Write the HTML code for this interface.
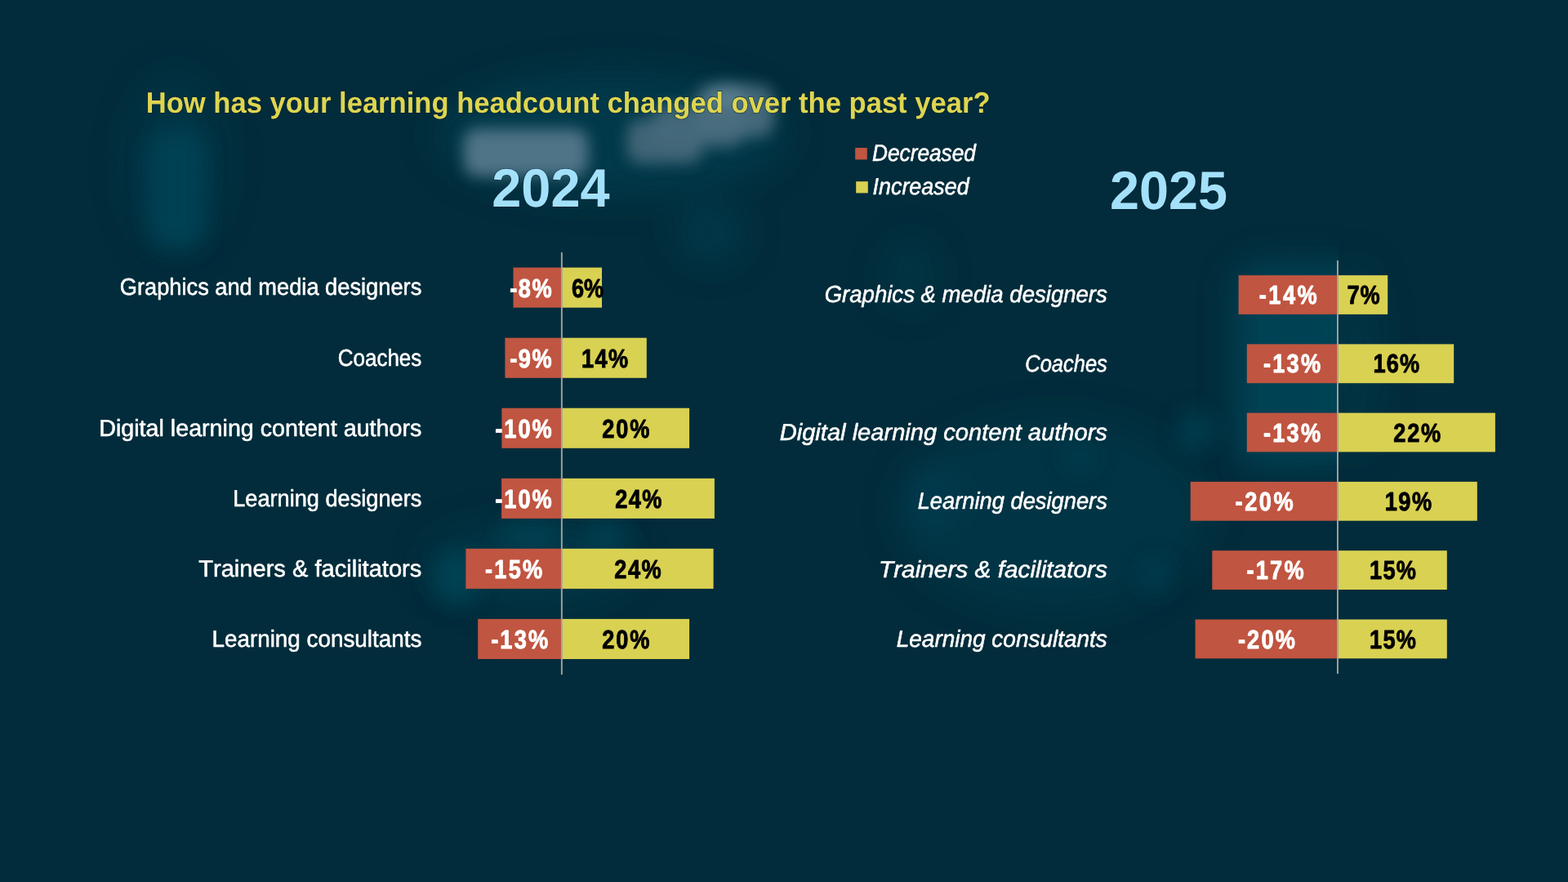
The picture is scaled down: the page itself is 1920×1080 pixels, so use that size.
<!DOCTYPE html>
<html lang="en">
<head>
<meta charset="utf-8">
<title>How has your learning headcount changed over the past year?</title>
<style>
html,body{margin:0;padding:0;width:1920px;height:1080px;overflow:hidden;background:#022c3b;}
svg{display:block;position:absolute;left:0;top:0;}
text{font-family:"Liberation Sans",sans-serif;font-kerning:none;text-rendering:geometricPrecision;}
.b{font-weight:700;}
.i{font-style:italic;}
.h{paint-order:stroke;stroke:#011c2b;stroke-opacity:.55;stroke-width:1.6px;stroke-linejoin:round;}
.s{stroke:#fff;stroke-width:0.55px;stroke-linejoin:round;}
</style>
</head>
<body>
<svg width="1920" height="1080" viewBox="0 0 1920 1080">
<defs>
<filter id="bl30" x="-50%" y="-50%" width="200%" height="200%"><feGaussianBlur stdDeviation="22"/></filter>
<filter id="bl9" x="-50%" y="-50%" width="200%" height="200%"><feGaussianBlur stdDeviation="9"/></filter>
<filter id="bl14" x="-50%" y="-50%" width="200%" height="200%"><feGaussianBlur stdDeviation="13"/></filter>
</defs>
<rect width="1920" height="1080" fill="#022c3b"/>

<clipPath id="cl25"><rect x="0" y="0" width="1639" height="1080"/></clipPath>
<g id="bg-glow">
<g filter="url(#bl30)">
<ellipse cx="750" cy="165" rx="215" ry="75" fill="#04485a" opacity="0.5"/>
<ellipse cx="870" cy="285" rx="40" ry="35" fill="#04475a" opacity="0.5"/>
<ellipse cx="1290" cy="630" rx="190" ry="120" fill="#04475a" opacity="0.3"/>
<ellipse cx="1140" cy="612" rx="30" ry="45" fill="#04475a" opacity="0.5"/>
<ellipse cx="1115" cy="335" rx="30" ry="40" fill="#04475a" opacity="0.35"/>
<ellipse cx="1660" cy="440" rx="30" ry="120" fill="#04475a" opacity="0.3"/>
<ellipse cx="650" cy="690" rx="130" ry="50" fill="#04475a" opacity="0.35"/>
<ellipse cx="215" cy="200" rx="60" ry="110" fill="#04475a" opacity="0.3"/>
</g>
<g clip-path="url(#cl25)">
<rect x="1512" y="322" width="210" height="250" rx="30" fill="#04465a" opacity="0.85" filter="url(#bl30)"/>
</g>
<g filter="url(#bl14)">
<rect x="183" y="158" width="68" height="146" rx="30" fill="#034254" opacity="0.95"/>
<ellipse cx="558" cy="708" rx="28" ry="32" fill="#04475a" opacity="0.75"/>
<ellipse cx="650" cy="656" rx="40" ry="18" fill="#04475a" opacity="0.6"/>
<ellipse cx="742" cy="656" rx="28" ry="18" fill="#04475a" opacity="0.6"/>
<ellipse cx="1464" cy="528" rx="22" ry="24" fill="#04475a" opacity="0.6"/>
<ellipse cx="1415" cy="706" rx="18" ry="22" fill="#04475a" opacity="0.45"/>
<ellipse cx="1322" cy="560" rx="20" ry="18" fill="#04475a" opacity="0.4"/>
</g>
<g filter="url(#bl9)">
<rect x="568" y="158" width="152" height="58" rx="16" fill="#52778a" opacity="0.95"/>
<rect x="768" y="146" width="92" height="54" rx="16" fill="#456a7b" opacity="0.9"/>
<rect x="800" y="128" width="110" height="52" rx="16" fill="#456a7b" opacity="0.9"/>
<rect x="852" y="104" width="96" height="64" rx="20" fill="#4a6f80" opacity="0.9"/>
<ellipse cx="890" cy="116" rx="24" ry="14" fill="#5f8494" opacity="0.8"/>
</g>
</g>

<g id="chart2024">
<rect x="628.5" y="327.6" width="59.5" height="49.1" fill="#c05541"/>
<rect x="688.0" y="327.6" width="49.0" height="49.1" fill="#d9d152"/>
<rect x="618.4" y="413.7" width="69.6" height="49.1" fill="#c05541"/>
<rect x="688.0" y="413.7" width="103.8" height="49.1" fill="#d9d152"/>
<rect x="614.4" y="499.7" width="73.6" height="49.1" fill="#c05541"/>
<rect x="688.0" y="499.7" width="156.1" height="49.1" fill="#d9d152"/>
<rect x="614.1" y="585.8" width="73.9" height="49.1" fill="#c05541"/>
<rect x="688.0" y="585.8" width="186.9" height="49.1" fill="#d9d152"/>
<rect x="570.4" y="671.8" width="117.6" height="49.1" fill="#c05541"/>
<rect x="688.0" y="671.8" width="185.6" height="49.1" fill="#d9d152"/>
<rect x="585.2" y="757.9" width="102.8" height="49.1" fill="#c05541"/>
<rect x="688.0" y="757.9" width="156.1" height="49.1" fill="#d9d152"/>
<rect x="686.9" y="309.0" width="1.9" height="517.0" fill="#a6a29e"/>
</g>
<g id="chart2025">
<rect x="1516.6" y="337.1" width="121.6" height="47.8" fill="#c05541"/>
<rect x="1638.2" y="337.1" width="61.0" height="47.8" fill="#d9d152"/>
<rect x="1526.8" y="421.4" width="111.4" height="47.8" fill="#c05541"/>
<rect x="1638.2" y="421.4" width="142.0" height="47.8" fill="#d9d152"/>
<rect x="1526.8" y="505.6" width="111.4" height="47.8" fill="#c05541"/>
<rect x="1638.2" y="505.6" width="192.7" height="47.8" fill="#d9d152"/>
<rect x="1457.7" y="589.9" width="180.5" height="47.8" fill="#c05541"/>
<rect x="1638.2" y="589.9" width="170.6" height="47.8" fill="#d9d152"/>
<rect x="1484.3" y="674.2" width="153.9" height="47.8" fill="#c05541"/>
<rect x="1638.2" y="674.2" width="133.6" height="47.8" fill="#d9d152"/>
<rect x="1463.6" y="758.5" width="174.6" height="47.8" fill="#c05541"/>
<rect x="1638.2" y="758.5" width="133.6" height="47.8" fill="#d9d152"/>
<rect x="1637.0" y="319.0" width="1.9" height="506.0" fill="#a6a29e"/>
</g>
<rect x="1047.2" y="181.0" width="14.6" height="14.4" fill="#c05541"/>
<rect x="1048.2" y="222.2" width="14.6" height="14.2" fill="#d9d152"/>
<g id="labels">
<text class="b h" transform="translate(178.69 137.80) scale(0.9606 1)" font-size="36" fill="#ddd550">How has your learning headcount changed over the past year?</text>
<text class="b h" transform="translate(602.15 253.10) scale(0.9797 1)" font-size="66.3" fill="#a3e1fa">2024</text>
<text class="b h" transform="translate(1359.06 256.30) scale(0.9766 1)" font-size="66.3" fill="#a3e1fa">2025</text>
<text class="i s" transform="translate(1067.99 197.10) scale(0.9113 1)" font-size="28.8" fill="#fff">Decreased</text>
<text class="i s" transform="translate(1068.54 238.10) scale(0.9334 1)" font-size="28.8" fill="#fff">Increased</text>
<text class="s" transform="translate(146.73 361.35) scale(0.9461 1)" font-size="28.8" fill="#fff">Graphics and media designers</text>
<text class="s" transform="translate(413.78 447.50) scale(0.9014 1)" font-size="28.8" fill="#fff">Coaches</text>
<text class="s" transform="translate(121.25 533.65) scale(0.9951 1)" font-size="28.8" fill="#fff">Digital learning content authors</text>
<text class="s" transform="translate(285.27 619.80) scale(0.9430 1)" font-size="28.8" fill="#fff">Learning designers</text>
<text class="s" transform="translate(243.25 705.95) scale(1.0097 1)" font-size="28.8" fill="#fff">Trainers &amp; facilitators</text>
<text class="s" transform="translate(259.52 792.10) scale(0.9662 1)" font-size="28.8" fill="#fff">Learning consultants</text>
<text class="i s" transform="translate(1009.64 370.40) scale(0.9570 1)" font-size="28.8" fill="#fff">Graphics &amp; media designers</text>
<text class="i s" transform="translate(1255.29 454.65) scale(0.8844 1)" font-size="28.8" fill="#fff">Coaches</text>
<text class="i s" transform="translate(954.70 538.90) scale(1.0105 1)" font-size="28.8" fill="#fff">Digital learning content authors</text>
<text class="i s" transform="translate(1123.66 623.15) scale(0.9479 1)" font-size="28.8" fill="#fff">Learning designers</text>
<text class="i s" transform="translate(1075.92 707.40) scale(1.0352 1)" font-size="28.8" fill="#fff">Trainers &amp; facilitators</text>
<text class="i s" transform="translate(1097.74 791.65) scale(0.9712 1)" font-size="28.8" fill="#fff">Learning consultants</text>
<text class="b d" transform="translate(624.19 363.60) scale(0.8500 1)" font-size="32" letter-spacing="1.89" stroke="#fff" stroke-width="0.9" stroke-linejoin="round" fill="#fff">-8%</text>
<text class="b d" transform="translate(700.05 363.60) scale(0.8500 1)" font-size="32" letter-spacing="-0.23" stroke="#000" stroke-width="0.9" stroke-linejoin="round" fill="#000">6%</text>
<text class="b d" transform="translate(1541.69 372.10) scale(0.8500 1)" font-size="32" letter-spacing="2.97" stroke="#fff" stroke-width="0.9" stroke-linejoin="round" fill="#fff">-14%</text>
<text class="b d" transform="translate(1649.58 372.10) scale(0.8500 1)" font-size="32" letter-spacing="1.03" stroke="#000" stroke-width="0.9" stroke-linejoin="round" fill="#000">7%</text>
<text class="b d" transform="translate(624.19 449.62) scale(0.8500 1)" font-size="32" letter-spacing="1.89" stroke="#fff" stroke-width="0.9" stroke-linejoin="round" fill="#fff">-9%</text>
<text class="b d" transform="translate(712.04 449.62) scale(0.8500 1)" font-size="32" letter-spacing="1.58" stroke="#000" stroke-width="0.9" stroke-linejoin="round" fill="#000">14%</text>
<text class="b d" transform="translate(1546.89 456.44) scale(0.8500 1)" font-size="32" letter-spacing="2.66" stroke="#fff" stroke-width="0.9" stroke-linejoin="round" fill="#fff">-13%</text>
<text class="b d" transform="translate(1681.44 456.44) scale(0.8500 1)" font-size="32" letter-spacing="1.41" stroke="#000" stroke-width="0.9" stroke-linejoin="round" fill="#000">16%</text>
<text class="b d" transform="translate(606.19 535.64) scale(0.8500 1)" font-size="32" letter-spacing="2.39" stroke="#fff" stroke-width="0.9" stroke-linejoin="round" fill="#fff">-10%</text>
<text class="b d" transform="translate(737.21 535.64) scale(0.8500 1)" font-size="32" letter-spacing="2.19" stroke="#000" stroke-width="0.9" stroke-linejoin="round" fill="#000">20%</text>
<text class="b d" transform="translate(1546.89 540.78) scale(0.8500 1)" font-size="32" letter-spacing="2.66" stroke="#fff" stroke-width="0.9" stroke-linejoin="round" fill="#fff">-13%</text>
<text class="b d" transform="translate(1706.31 540.78) scale(0.8500 1)" font-size="32" letter-spacing="2.01" stroke="#000" stroke-width="0.9" stroke-linejoin="round" fill="#000">22%</text>
<text class="b d" transform="translate(606.19 621.66) scale(0.8500 1)" font-size="32" letter-spacing="2.39" stroke="#fff" stroke-width="0.9" stroke-linejoin="round" fill="#fff">-10%</text>
<text class="b d" transform="translate(753.21 621.66) scale(0.8500 1)" font-size="32" letter-spacing="1.60" stroke="#000" stroke-width="0.9" stroke-linejoin="round" fill="#000">24%</text>
<text class="b d" transform="translate(1512.59 625.12) scale(0.8500 1)" font-size="32" letter-spacing="2.97" stroke="#fff" stroke-width="0.9" stroke-linejoin="round" fill="#fff">-20%</text>
<text class="b d" transform="translate(1695.64 625.12) scale(0.8500 1)" font-size="32" letter-spacing="1.82" stroke="#000" stroke-width="0.9" stroke-linejoin="round" fill="#000">19%</text>
<text class="b d" transform="translate(594.09 707.68) scale(0.8500 1)" font-size="32" letter-spacing="2.58" stroke="#fff" stroke-width="0.9" stroke-linejoin="round" fill="#fff">-15%</text>
<text class="b d" transform="translate(752.21 707.68) scale(0.8500 1)" font-size="32" letter-spacing="1.84" stroke="#000" stroke-width="0.9" stroke-linejoin="round" fill="#000">24%</text>
<text class="b d" transform="translate(1526.39 709.46) scale(0.8500 1)" font-size="32" letter-spacing="2.62" stroke="#fff" stroke-width="0.9" stroke-linejoin="round" fill="#fff">-17%</text>
<text class="b d" transform="translate(1677.04 709.46) scale(0.8500 1)" font-size="32" letter-spacing="1.47" stroke="#000" stroke-width="0.9" stroke-linejoin="round" fill="#000">15%</text>
<text class="b d" transform="translate(601.19 793.70) scale(0.8500 1)" font-size="32" letter-spacing="2.50" stroke="#fff" stroke-width="0.9" stroke-linejoin="round" fill="#fff">-13%</text>
<text class="b d" transform="translate(737.21 793.70) scale(0.8500 1)" font-size="32" letter-spacing="2.19" stroke="#000" stroke-width="0.9" stroke-linejoin="round" fill="#000">20%</text>
<text class="b d" transform="translate(1515.89 793.80) scale(0.8500 1)" font-size="32" letter-spacing="2.54" stroke="#fff" stroke-width="0.9" stroke-linejoin="round" fill="#fff">-20%</text>
<text class="b d" transform="translate(1677.04 793.80) scale(0.8500 1)" font-size="32" letter-spacing="1.47" stroke="#000" stroke-width="0.9" stroke-linejoin="round" fill="#000">15%</text>
</g>
</svg>
</body>
</html>
